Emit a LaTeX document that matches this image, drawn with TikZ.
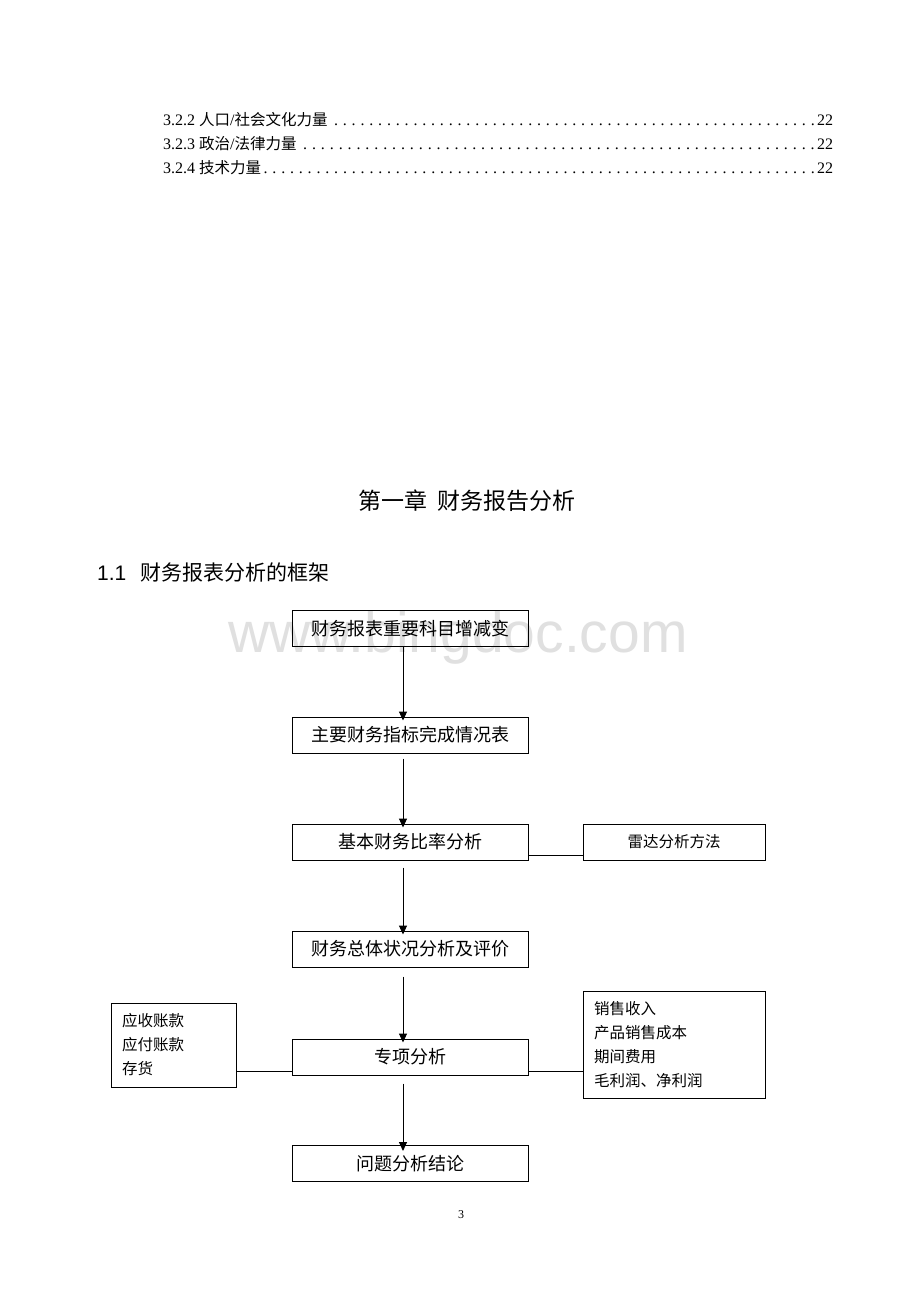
\documentclass[tikz,border=0pt]{standalone}
\usepackage{fontspec}
\setmainfont{Liberation Serif}
\newfontfamily\cjk{Noto Sans CJK SC}
\newfontfamily\arial{Liberation Sans}
\usetikzlibrary{arrows.meta,calc}
\newcommand\tocdots{\xleaders\hbox to 8.8pt{\hss.\hss}\hfill}
\begin{document}
\begin{tikzpicture}[x=1pt,y=-1pt,
  box/.style={draw,line width=1pt,minimum width=236pt,minimum height=36pt,inner sep=0pt,font=\cjk\fontsize{18}{20}\selectfont},
  sidebox/.style={draw,line width=1pt,inner xsep=11pt,inner ysep=0pt,align=left,font=\cjk\fontsize{15.5}{24}\selectfont},
  flow/.style={line width=1pt,-{Triangle[length=9pt,width=8pt]},shorten >=-4pt},
  link/.style={line width=1pt},
  toc/.style={anchor=base west,inner sep=0pt,font=\fontsize{16}{18}\selectfont}]
\useasboundingbox (0,0) rectangle (920,1301);
\fill[white] (0,0) rectangle (920,1301);
% watermark
\node[anchor=base,text=black!12,font=\arial\fontsize{57}{60}\selectfont,inner sep=0pt] (wm) at (458,652) {www.bingdoc.com};
% table of contents
\node[toc] (t1) at (163,125.5) {\hbox to 670pt{3.2.2 {\cjk\fontsize{15.5}{18}\selectfont 人口}/{\cjk\fontsize{15.5}{18}\selectfont 社会文化力量} \tocdots 22}};
\node[toc] (t2) at (163,149.5) {\hbox to 670pt{3.2.3 {\cjk\fontsize{15.5}{18}\selectfont 政治}/{\cjk\fontsize{15.5}{18}\selectfont 法律力量} \tocdots 22}};
\node[toc] (t3) at (163,173.5) {\hbox to 670pt{3.2.4 {\cjk\fontsize{15.5}{18}\selectfont 技术力量}\tocdots 22}};
% headings
\node[font=\cjk\fontsize{23}{26}\selectfont,inner sep=0pt] (title) at (467,501) {第一章\hspace{10pt}财务报告分析};
\node[anchor=west,inner sep=0pt] (h11) at (97,573) {\arial\fontsize{21}{24}\selectfont 1.1\hspace{14pt}\cjk 财务报表分析的框架};
% main flow boxes
\node[box] (b1) at (410,628.5) {财务报表重要科目增减变};
\node[box] (b2) at (410,735) {主要财务指标完成情况表};
\node[box] (b3) at (410,842) {基本财务比率分析};
\node[box] (b4) at (410,949) {财务总体状况分析及评价};
\node[box] (b5) at (410,1057) {专项分析};
\node[box] (b6) at (410,1163.5) {问题分析结论};
% side boxes
\node[box,minimum width=182pt,font=\cjk\fontsize{15.5}{18}\selectfont] (r) at (674,842) {雷达分析方法};
\node[sidebox,text width=103pt,minimum height=84pt] (l) at (173.5,1045) {应收账款\\应付账款\\存货};
\node[sidebox,text width=160pt,minimum height=107pt] (rr) at (674,1044.5) {销售收入\\产品销售成本\\期间费用\\毛利润、净利润};
% arrows
\draw[flow] ([xshift=-7pt]b1.south) -- ([xshift=-7pt]b2.north);
\draw[flow,shorten <=5pt] ([xshift=-7pt]b2.south) -- ([xshift=-7pt]b3.north);
\draw[flow,shorten <=7pt] ([xshift=-7pt]b3.south) -- ([xshift=-7pt]b4.north);
\draw[flow,shorten <=9pt] ([xshift=-7pt]b4.south) -- ([xshift=-7pt]b5.north);
\draw[flow,shorten <=8pt,shorten >=-6pt] ([xshift=-7pt]b5.south) -- ([xshift=-7pt]b6.north);
% side connectors
\draw[link] ([yshift=-13pt]b3.east) -- ([yshift=-13pt]b3.east -| r.west);
\draw[link] ([yshift=-14pt]b5.west) -- ([yshift=-14pt]b5.west -| l.east);
\draw[link] ([yshift=-14pt]b5.east) -- ([yshift=-14pt]b5.east -| rr.west);
% page number
\node[font=\fontsize{12}{14}\selectfont,inner sep=0pt] (pg) at (461,1215) {3};
\end{tikzpicture}
\end{document}
